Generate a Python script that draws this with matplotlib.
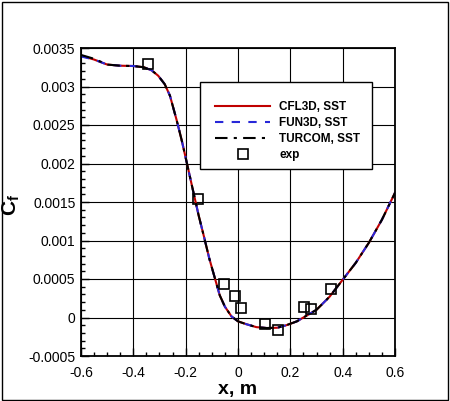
import matplotlib
matplotlib.use("Agg")
import matplotlib.pyplot as plt
from matplotlib.patches import Rectangle
from matplotlib.ticker import MultipleLocator, FixedLocator

plt.rcParams['font.family'] = ['Liberation Sans', 'DejaVu Sans']
plt.rcParams['mathtext.fontset'] = 'custom'
plt.rcParams['mathtext.rm'] = 'Liberation Sans'
plt.rcParams['mathtext.bf'] = 'Liberation Sans:bold'

# ---- data ----
x_cfd = [-0.6, -0.55, -0.5, -0.45, -0.4, -0.36, -0.33, -0.305, -0.28, -0.26,
         -0.235, -0.215, -0.195, -0.17, -0.15, -0.13, -0.11, -0.09, -0.07, -0.05,
         -0.025, 0.0, 0.03, 0.07, 0.11, 0.15, 0.185, 0.225, 0.27, 0.3,
         0.35, 0.4, 0.45, 0.5, 0.55, 0.6]
cfl3d_cf = [0.00340, 0.00335, 0.003285, 0.00327, 0.003266, 0.00325, 0.00321, 0.00314, 0.00303, 0.00288,
            0.00257, 0.00230, 0.00200, 0.00162, 0.00132, 0.00105, 0.00077, 0.00053, 0.00029, 0.00014,
            0.000015, -0.00005, -0.000085, -0.000125, -0.000137, -0.000133, -0.0001, -0.00005, 0.00004, 0.0001,
            0.00027, 0.00049, 0.00071, 0.00097, 0.00127, 0.00162]
fun3d_cf = [0.00339, 0.00335, 0.003285, 0.00327, 0.003266, 0.00325, 0.00321, 0.00314, 0.00303, 0.00288,
            0.00257, 0.00230, 0.00200, 0.00162, 0.00132, 0.00105, 0.00077, 0.00053, 0.00029, 0.00014,
            0.000015, -0.00005, -0.000085, -0.000125, -0.000137, -0.000133, -0.0001, -0.00005, 0.00004, 0.0001,
            0.00027, 0.00049, 0.00071, 0.00097, 0.00127, 0.00162]
turcom_cf = [0.00341, 0.00336, 0.003285, 0.00327, 0.003266, 0.00325, 0.00321, 0.00314, 0.00303, 0.00288,
             0.00257, 0.00230, 0.00200, 0.00162, 0.00132, 0.00105, 0.00077, 0.00053, 0.00029, 0.00014,
             0.000015, -0.00005, -0.000085, -0.000125, -0.000137, -0.000133, -0.0001, -0.00005, 0.00004, 0.0001,
             0.00027, 0.00049, 0.00071, 0.00097, 0.00127, 0.00162]

x_exp = [-0.344, -0.152, -0.052, -0.013, 0.011, 0.103, 0.152, 0.252, 0.280, 0.355]
cf_exp = [0.00329, 0.001535, 0.000435, 0.000277, 0.000120, -0.000080, -0.000160, 0.000130, 0.000114, 0.000366]

series_labels = ['CFL3D, SST', 'FUN3D, SST', 'TURCOM, SST', 'exp']

x_ticks = [-0.6, -0.4, -0.2, 0.0, 0.2, 0.4, 0.6]
x_ticklabels = ['-0.6', '-0.4', '-0.2', '0', '0.2', '0.4', '0.6']
y_ticks = [-0.0005, 0.0, 0.0005, 0.001, 0.0015, 0.002, 0.0025, 0.003, 0.0035]
y_ticklabels = ['-0.0005', '0', '0.0005', '0.001', '0.0015', '0.002', '0.0025', '0.003', '0.0035']

# ---- figure ----
W, H = 450, 401
fig = plt.figure(figsize=(W / 100, H / 100), dpi=100)
ax_l, ax_r, ax_t, ax_b = 81, 395, 48, 356
ax = fig.add_axes([ax_l / W, (H - ax_b) / H, (ax_r - ax_l) / W, (ax_b - ax_t) / H])
aw, ah = ax_r - ax_l, ax_b - ax_t

red = '#c00000'
blue = '#2828d8'

l1, = ax.plot(x_cfd, cfl3d_cf, color=red, lw=1.5, label=series_labels[0], zorder=3)
l2, = ax.plot(x_cfd, fun3d_cf, color=blue, lw=1.5, ls=(0, (4, 4)), label=series_labels[1], zorder=4)
l3, = ax.plot(x_cfd, turcom_cf, color='black', lw=1.5, ls=(0, (6, 3, 1.5, 3)), label=series_labels[2], zorder=5)
l4, = ax.plot(x_exp, cf_exp, ls='none', marker='s', ms=6.5, mfc='none', mec='black', mew=1.2,
              label=series_labels[3], zorder=6)

ax.set_xlim(-0.6, 0.6)
ax.set_ylim(-0.0005, 0.0035)
ax.xaxis.set_major_locator(FixedLocator(x_ticks))
ax.set_xticklabels(x_ticklabels)
ax.yaxis.set_major_locator(FixedLocator(y_ticks))
ax.set_yticklabels(y_ticklabels)
ax.xaxis.set_minor_locator(MultipleLocator(0.05))
ax.yaxis.set_minor_locator(MultipleLocator(0.0001))

ax.tick_params(which='both', direction='in', top=False, right=False, labelsize=10, width=1.0)
ax.tick_params(axis='x', which='major', length=6, pad=7)
ax.tick_params(axis='y', which='major', length=6, pad=4)
ax.tick_params(which='minor', length=3)

ax.grid(True, which='major', color='black', lw=0.8)
ax.set_axisbelow(True)
for s in ax.spines.values():
    s.set_linewidth(1.3)
    s.set_zorder(10)

ax.set_xlabel('x, m', fontsize=14, fontweight='bold')
ax.xaxis.label.set_va('center')
ax.xaxis.set_label_coords(0.5, -0.108)
ax.set_ylabel(r'$\mathbf{C_f}$', fontsize=15)
ax.yaxis.label.set_va('center')
ax.yaxis.set_label_coords((11 - ax_l) / aw, 0.49)

# legend frame drawn as a box, entries placed inside it
box = Rectangle(((200 - ax_l) / aw, (ax_b - 169) / ah), (372 - 200) / aw, (169 - 82) / ah,
                transform=ax.transAxes, facecolor='white', edgecolor='black', lw=1.0, zorder=19)
ax.add_patch(box)
leg = ax.legend(handles=[l1, l2, l3, l4], loc='upper left',
                bbox_to_anchor=((200 - ax_l) / aw, (ax_b - 86) / ah),
                prop={'weight': 'bold', 'size': 8.5}, frameon=False,
                borderpad=1.3, labelspacing=0.33,
                handlelength=4.6, handletextpad=0.8, borderaxespad=0)
leg.set_zorder(20)

fig.patches.append(Rectangle((1.5 / W, 1.5 / H), (W - 3.5) / W, (H - 3.5) / H, transform=fig.transFigure,
                             fill=False, edgecolor='black', lw=1.0))

fig.savefig('out.png', dpi=100)
